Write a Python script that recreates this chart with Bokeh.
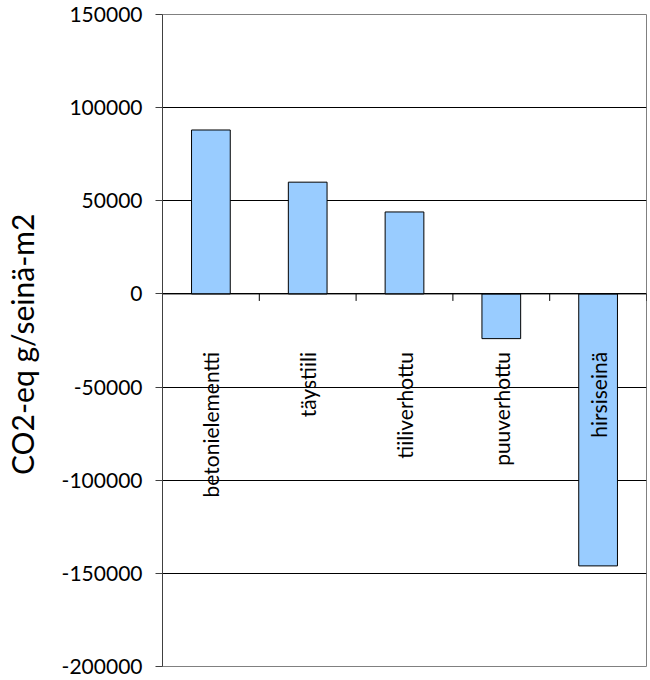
import math
from bokeh.plotting import figure
from bokeh.models import Range1d, FixedTicker, NumeralTickFormatter, Span
from bokeh.embed import file_html
from bokeh.resources import INLINE
from bokeh.core.properties import value

categories = ["betonielementti", "täystiili", "tiiliverhottu", "puuverhottu", "hirsiseinä"]
values = [88000, 60000, 44000, -24000, -146000]
y_ticks = [-200000, -150000, -100000, -50000, 0, 50000, 100000, 150000]
y_label = "CO2-eq  g/seinä-m2"

FONT = "Lato"
n = len(categories)
xs = [i + 0.5 for i in range(n)]
bounds = list(range(n + 1))
y_min, y_max = y_ticks[0], y_ticks[-1]

W, H = 650, 680
B_LEFT, B_RIGHT, B_TOP, B_BOTTOM = 157, 4, 14, 14
frame_h = H - B_TOP - B_BOTTOM
units_per_px = (y_max - y_min) / frame_h

p = figure(width=W, height=H, x_range=Range1d(0, n), y_range=Range1d(y_min, y_max),
           output_backend="svg", toolbar_location=None,
           min_border_left=B_LEFT, min_border_right=B_RIGHT,
           min_border_top=B_TOP, min_border_bottom=B_BOTTOM)

p.xaxis.visible = False
p.xgrid.visible = False
p.ygrid.ticker = FixedTicker(ticks=y_ticks)
p.ygrid.grid_line_color = "black"
p.ygrid.grid_line_alpha = 1.0
p.outline_line_color = "#808080"
p.outline_line_width = 1
p.background_fill_color = "white"
p.border_fill_color = "white"

ax = p.yaxis[0]
ax.ticker = FixedTicker(ticks=y_ticks)
ax.formatter = NumeralTickFormatter(format="0")
ax.major_tick_out = 7
ax.major_tick_in = 0
ax.minor_tick_line_color = None
ax.axis_line_color = "#404040"
ax.major_tick_line_color = "#404040"
ax.major_label_text_font = FONT
ax.major_label_text_font_size = "21px"
ax.major_label_text_color = "black"
ax.major_label_standoff = 13
ax.axis_label = y_label
ax.axis_label_text_font = FONT
ax.axis_label_text_font_size = "30px"
ax.axis_label_text_font_style = "normal"
ax.axis_label_text_color = "black"
ax.axis_label_standoff = 19

p.vbar(x=xs, top=values, bottom=0, width=0.4, fill_color="#99CCFF",
       line_color="black", line_width=1)

p.add_layout(Span(location=0, dimension="width", line_color="black", line_width=1))

tick_len = 7 * units_per_px
p.segment(x0=bounds, y0=[0] * len(bounds), x1=bounds, y1=[-tick_len] * len(bounds),
          line_color="black", line_width=1)

label_y = -58 * units_per_px
p.text(x=xs, y=[label_y] * n, text=categories, angle=math.pi / 2,
       text_align="right", text_baseline="middle",
       text_font=value(FONT), text_font_size="21px", text_color="black")

open("out.html", "w").write(file_html(p, INLINE))
